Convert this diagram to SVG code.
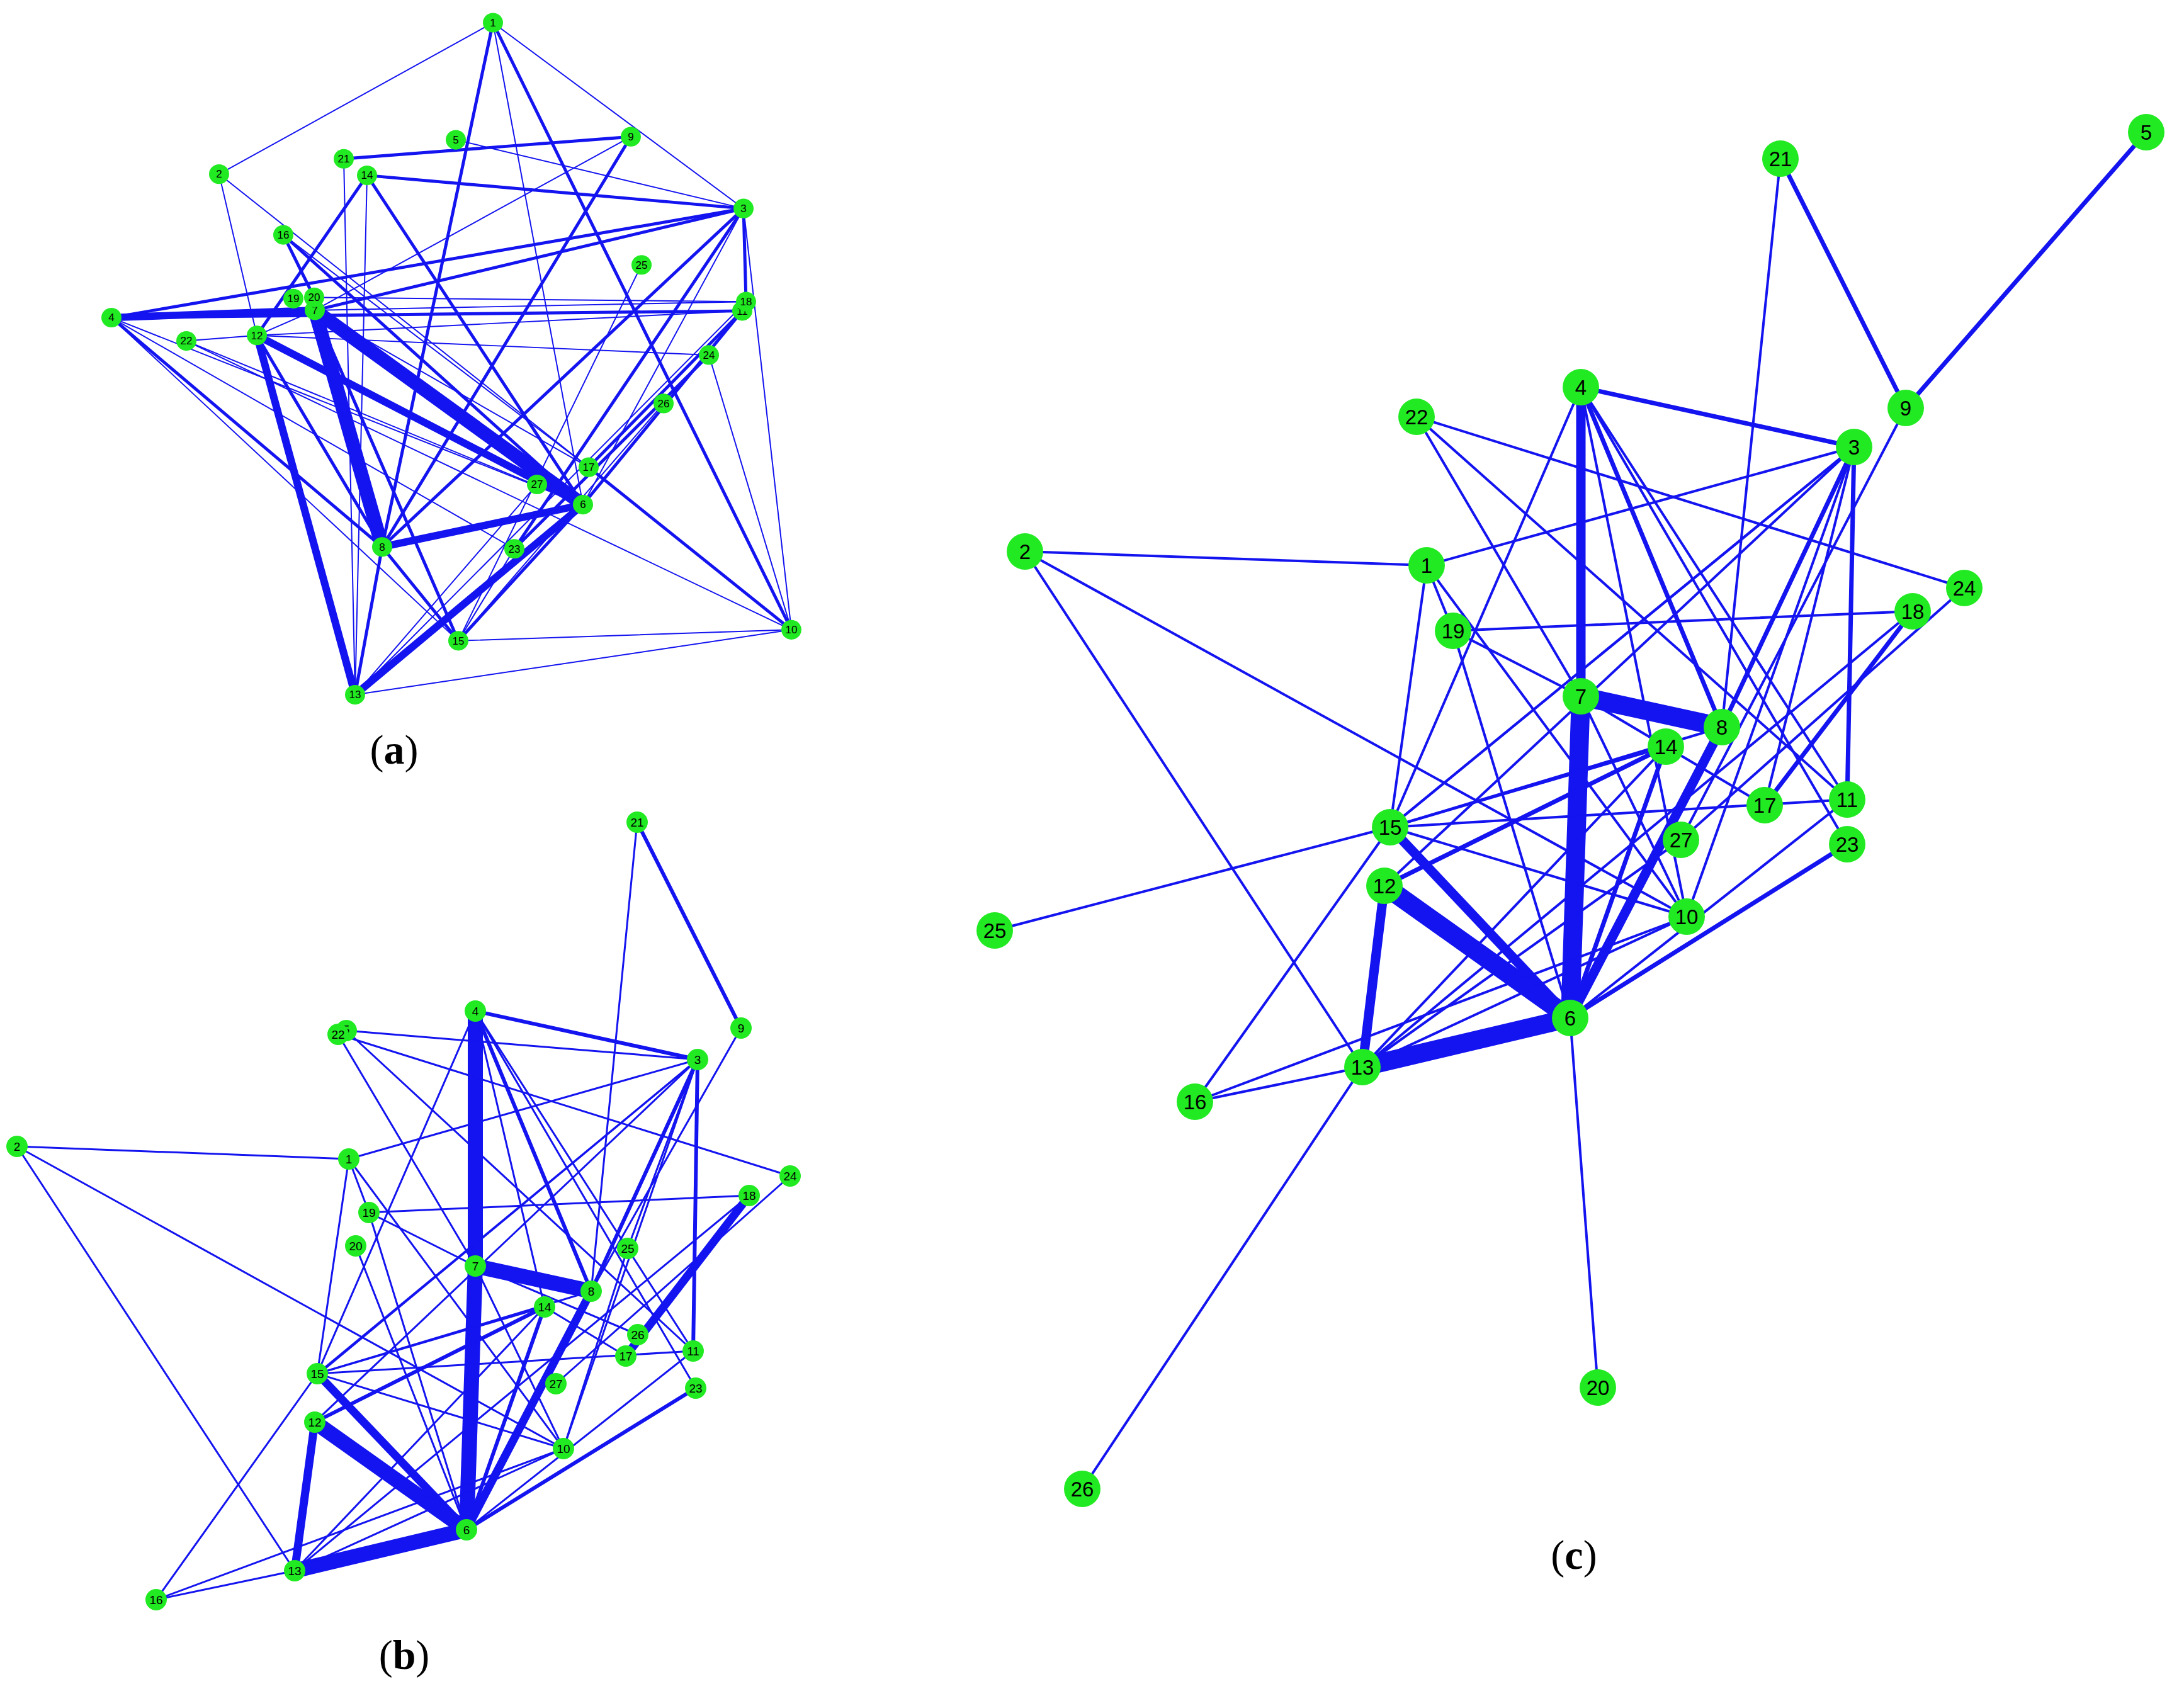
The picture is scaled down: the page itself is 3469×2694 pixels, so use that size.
<svg xmlns="http://www.w3.org/2000/svg" width="3469" height="2694" viewBox="0 0 3469 2694">
<style>
line{stroke:#1414f0;stroke-linecap:round}
.a1{stroke-width:2}.a2{stroke-width:5}.a3{stroke-width:12}.a4{stroke-width:22}
.b1{stroke-width:3}.b2{stroke-width:6}.b3{stroke-width:13}.b4{stroke-width:24}
.c1{stroke-width:4}.c2{stroke-width:7}.c3{stroke-width:15}.c4{stroke-width:30}
circle{fill:#22ea22}
text{font-family:"Liberation Sans",Arial,sans-serif;text-anchor:middle;fill:#000}
.sa text{font-size:17px}.sb text{font-size:19px}.sc text{font-size:33px}
.cap{font-family:"Liberation Serif","Times New Roman",serif;font-size:66px}
</style>
<g id="connectors">
<g transform="scale(1,0.974)">
<line class="a1" x1="783" y1="37" x2="348" y2="284"/><line class="a1" x1="783" y1="37" x2="1181" y2="340"/>
<line class="a2" x1="783" y1="37" x2="607" y2="892"/><line class="a1" x1="783" y1="37" x2="926" y2="823"/>
<line class="a2" x1="783" y1="37" x2="1257" y2="1027"/><line class="a2" x1="1002" y1="223" x2="546" y2="259"/>
<line class="a1" x1="724" y1="228" x2="1181" y2="340"/><line class="a2" x1="1002" y1="223" x2="607" y2="892"/>
<line class="a1" x1="1002" y1="223" x2="500" y2="506"/><line class="a2" x1="583" y1="286" x2="1181" y2="340"/>
<line class="a2" x1="583" y1="286" x2="926" y2="823"/><line class="a2" x1="583" y1="286" x2="408" y2="547"/>
<line class="a1" x1="583" y1="286" x2="564" y2="1133"/><line class="a1" x1="546" y1="259" x2="564" y2="1133"/>
<line class="a1" x1="348" y1="284" x2="408" y2="547"/><line class="a1" x1="348" y1="284" x2="935" y2="762"/>
<line class="a2" x1="1181" y1="340" x2="177" y2="518"/><line class="a2" x1="1181" y1="340" x2="500" y2="506"/>
<line class="a2" x1="1181" y1="340" x2="1185" y2="492"/><line class="a1" x1="1181" y1="340" x2="1257" y2="1027"/>
<line class="a2" x1="1181" y1="340" x2="607" y2="892"/><line class="a2" x1="1181" y1="340" x2="817" y2="895"/>
<line class="a1" x1="1181" y1="340" x2="926" y2="823"/>
<line class="a3" x1="177" y1="518" x2="500" y2="506"/><line class="a2" x1="177" y1="518" x2="1179" y2="507"/>
<line class="a2" x1="177" y1="518" x2="607" y2="892"/><line class="a1" x1="177" y1="518" x2="728" y2="1045"/>
<line class="a1" x1="177" y1="518" x2="926" y2="823"/><line class="a1" x1="177" y1="518" x2="817" y2="895"/>
<line class="a4" x1="500" y1="506" x2="926" y2="823"/><line class="a4" x1="500" y1="506" x2="607" y2="892"/>
<line class="a2" x1="500" y1="506" x2="728" y2="1045"/><line class="a1" x1="500" y1="506" x2="1185" y2="492"/>
<line class="a1" x1="500" y1="506" x2="935" y2="762"/><line class="a1" x1="500" y1="506" x2="408" y2="547"/>
<line class="a3" x1="408" y1="547" x2="926" y2="823"/><line class="a3" x1="408" y1="547" x2="564" y2="1133"/>
<line class="a2" x1="408" y1="547" x2="607" y2="892"/><line class="a1" x1="408" y1="547" x2="1126" y2="579"/>
<line class="a1" x1="408" y1="547" x2="1179" y2="507"/><line class="a1" x1="296" y1="556" x2="1257" y2="1027"/>
<line class="a1" x1="296" y1="556" x2="408" y2="547"/><line class="a1" x1="296" y1="556" x2="926" y2="823"/>
<line class="a1" x1="450" y1="383" x2="935" y2="762"/><line class="a2" x1="450" y1="383" x2="926" y2="823"/>
<line class="a2" x1="450" y1="383" x2="499" y2="485"/>
<line class="a3" x1="607" y1="892" x2="926" y2="823"/><line class="a2" x1="607" y1="892" x2="728" y2="1045"/>
<line class="a2" x1="607" y1="892" x2="564" y2="1133"/><line class="a3" x1="926" y1="823" x2="564" y2="1133"/>
<line class="a2" x1="926" y1="823" x2="728" y2="1045"/><line class="a2" x1="926" y1="823" x2="1179" y2="507"/>
<line class="a2" x1="1179" y1="507" x2="935" y2="762"/><line class="a2" x1="1126" y1="579" x2="817" y2="895"/>
<line class="a1" x1="1126" y1="579" x2="1257" y2="1027"/><line class="a1" x1="1054" y1="658" x2="728" y2="1045"/>
<line class="a1" x1="1019" y1="432" x2="728" y2="1045"/><line class="a2" x1="935" y1="762" x2="1257" y2="1027"/>
<line class="a1" x1="564" y1="1133" x2="1257" y2="1027"/><line class="a1" x1="728" y1="1045" x2="1257" y2="1027"/>
<line class="a1" x1="817" y1="895" x2="728" y2="1045"/><line class="a1" x1="853" y1="790" x2="564" y2="1133"/>
<line class="a1" x1="499" y1="485" x2="1185" y2="492"/><line class="a1" x1="1185" y1="492" x2="564" y2="1133"/>
</g>
<line class="b2" x1="1012" y1="1306" x2="1177" y2="1633"/><line class="b1" x1="1012" y1="1306" x2="939" y2="2051"/>
<line class="b2" x1="755" y1="1606" x2="1108" y2="1683"/><line class="b4" x1="755" y1="1606" x2="755" y2="2011"/>
<line class="b2" x1="755" y1="1606" x2="939" y2="2051"/><line class="b1" x1="755" y1="1606" x2="865" y2="2076"/>
<line class="b1" x1="755" y1="1606" x2="1101" y2="2146"/><line class="b1" x1="755" y1="1606" x2="1105" y2="2205"/>
<line class="b1" x1="755" y1="1606" x2="504" y2="2182"/><line class="b1" x1="550" y1="1637" x2="1108" y2="1683"/>
<line class="b1" x1="537" y1="1643" x2="1255" y2="1868"/><line class="b1" x1="537" y1="1643" x2="755" y2="2011"/>
<line class="b1" x1="550" y1="1637" x2="1101" y2="2146"/><line class="b1" x1="27" y1="1821" x2="554" y2="1841"/>
<line class="b1" x1="27" y1="1821" x2="468" y2="2495"/><line class="b1" x1="27" y1="1821" x2="895" y2="2301"/>
<line class="b1" x1="554" y1="1841" x2="1108" y2="1683"/><line class="b1" x1="554" y1="1841" x2="504" y2="2182"/>
<line class="b1" x1="554" y1="1841" x2="586" y2="1926"/><line class="b1" x1="554" y1="1841" x2="895" y2="2301"/>
<line class="b1" x1="586" y1="1926" x2="1190" y2="1899"/><line class="b1" x1="586" y1="1926" x2="755" y2="2011"/>
<line class="b1" x1="586" y1="1926" x2="741" y2="2430"/><line class="b1" x1="565" y1="1979" x2="741" y2="2430"/>
<line class="b1" x1="1177" y1="1633" x2="939" y2="2051"/><line class="b1" x1="1108" y1="1683" x2="504" y2="2182"/>
<line class="b1" x1="1108" y1="1683" x2="515" y2="2175"/><line class="b1" x1="1108" y1="1683" x2="500" y2="2259"/>
<line class="b2" x1="1108" y1="1683" x2="939" y2="2051"/><line class="b2" x1="1108" y1="1683" x2="1101" y2="2146"/>
<line class="b1" x1="1108" y1="1683" x2="895" y2="2301"/><line class="b1" x1="1108" y1="1683" x2="997" y2="1983"/>
<line class="b4" x1="755" y1="2011" x2="939" y2="2051"/><line class="b4" x1="755" y1="2011" x2="741" y2="2430"/>
<line class="b1" x1="755" y1="2011" x2="1013" y2="2120"/><line class="b1" x1="755" y1="2011" x2="895" y2="2301"/>
<line class="b3" x1="939" y1="2051" x2="741" y2="2430"/><line class="b1" x1="939" y1="2051" x2="504" y2="2182"/>
<line class="b1" x1="865" y1="2076" x2="504" y2="2182"/><line class="b2" x1="865" y1="2076" x2="500" y2="2259"/>
<line class="b2" x1="865" y1="2076" x2="741" y2="2430"/><line class="b1" x1="865" y1="2076" x2="468" y2="2495"/>
<line class="b1" x1="865" y1="2076" x2="994" y2="2154"/><line class="b3" x1="1190" y1="1899" x2="994" y2="2154"/>
<line class="b1" x1="1190" y1="1899" x2="468" y2="2495"/><line class="b1" x1="1101" y1="2146" x2="504" y2="2182"/>
<line class="b1" x1="1101" y1="2146" x2="741" y2="2430"/><line class="b3" x1="504" y1="2182" x2="741" y2="2430"/>
<line class="b1" x1="504" y1="2182" x2="248" y2="2541"/><line class="b1" x1="504" y1="2182" x2="895" y2="2301"/>
<line class="b4" x1="500" y1="2259" x2="741" y2="2430"/><line class="b3" x1="500" y1="2259" x2="468" y2="2495"/>
<line class="b4" x1="468" y1="2495" x2="741" y2="2430"/><line class="b1" x1="468" y1="2495" x2="248" y2="2541"/>
<line class="b1" x1="468" y1="2495" x2="895" y2="2301"/><line class="b1" x1="248" y1="2541" x2="895" y2="2301"/>
<line class="b2" x1="741" y1="2430" x2="1105" y2="2205"/><line class="b1" x1="1255" y1="1868" x2="883" y2="2198"/>
<line class="b1" x1="997" y1="1983" x2="895" y2="2301"/>
<line class="c2" x1="3409" y1="210" x2="3027" y2="648"/><line class="c2" x1="2828" y1="252" x2="3027" y2="648"/>
<line class="c1" x1="2828" y1="252" x2="2735" y2="1155"/><line class="c2" x1="2511" y1="615" x2="2945" y2="710"/>
<line class="c3" x1="2511" y1="615" x2="2511" y2="1106"/><line class="c2" x1="2511" y1="615" x2="2735" y2="1155"/>
<line class="c1" x1="2511" y1="615" x2="2679" y2="1456"/><line class="c1" x1="2511" y1="615" x2="2934" y2="1270"/>
<line class="c1" x1="2511" y1="615" x2="2934" y2="1341"/><line class="c1" x1="2511" y1="615" x2="2208" y2="1314"/>
<line class="c1" x1="2250" y1="662" x2="3120" y2="934"/><line class="c1" x1="2250" y1="662" x2="2511" y2="1106"/>
<line class="c1" x1="2250" y1="662" x2="2934" y2="1270"/><line class="c1" x1="1628" y1="876" x2="2266" y2="898"/>
<line class="c1" x1="1628" y1="876" x2="2164" y2="1695"/><line class="c1" x1="1628" y1="876" x2="2679" y2="1456"/>
<line class="c1" x1="2266" y1="898" x2="2945" y2="710"/><line class="c1" x1="2266" y1="898" x2="2208" y2="1314"/>
<line class="c1" x1="2266" y1="898" x2="2308" y2="1002"/><line class="c1" x1="2266" y1="898" x2="2679" y2="1456"/>
<line class="c1" x1="2308" y1="1002" x2="3038" y2="971"/><line class="c1" x1="2308" y1="1002" x2="2511" y2="1106"/>
<line class="c1" x1="2308" y1="1002" x2="2494" y2="1617"/>
<line class="c1" x1="2945" y1="710" x2="2208" y2="1314"/><line class="c1" x1="2945" y1="710" x2="2225" y2="1300"/>
<line class="c1" x1="2945" y1="710" x2="2199" y2="1407"/><line class="c2" x1="2945" y1="710" x2="2735" y2="1155"/>
<line class="c2" x1="2945" y1="710" x2="2934" y2="1270"/><line class="c1" x1="2945" y1="710" x2="2679" y2="1456"/>
<line class="c1" x1="2945" y1="710" x2="2803" y2="1279"/><line class="c1" x1="3027" y1="648" x2="2670" y2="1334"/>
<line class="c4" x1="2511" y1="1106" x2="2735" y2="1155"/><line class="c4" x1="2511" y1="1106" x2="2494" y2="1617"/>
<line class="c1" x1="2511" y1="1106" x2="2646" y2="1186"/><line class="c1" x1="2511" y1="1106" x2="2679" y2="1456"/>
<line class="c3" x1="2735" y1="1155" x2="2494" y2="1617"/><line class="c1" x1="2735" y1="1155" x2="2208" y2="1314"/>
<line class="c1" x1="2646" y1="1186" x2="2208" y2="1314"/><line class="c2" x1="2646" y1="1186" x2="2199" y2="1407"/>
<line class="c2" x1="2646" y1="1186" x2="2494" y2="1617"/><line class="c1" x1="2646" y1="1186" x2="2164" y2="1695"/>
<line class="c1" x1="2646" y1="1186" x2="2803" y2="1279"/><line class="c2" x1="3038" y1="971" x2="2803" y2="1279"/>
<line class="c1" x1="3038" y1="971" x2="2164" y2="1695"/><line class="c1" x1="2934" y1="1270" x2="2208" y2="1314"/>
<line class="c1" x1="2934" y1="1270" x2="2494" y2="1617"/><line class="c1" x1="2208" y1="1314" x2="1580" y2="1478"/>
<line class="c3" x1="2208" y1="1314" x2="2494" y2="1617"/><line class="c1" x1="2208" y1="1314" x2="1898" y2="1750"/>
<line class="c1" x1="2208" y1="1314" x2="2679" y2="1456"/><line class="c4" x1="2199" y1="1407" x2="2494" y2="1617"/>
<line class="c3" x1="2199" y1="1407" x2="2164" y2="1695"/><line class="c4" x1="2164" y1="1695" x2="2494" y2="1617"/>
<line class="c1" x1="2164" y1="1695" x2="1898" y2="1750"/><line class="c1" x1="2164" y1="1695" x2="1719" y2="2365"/>
<line class="c1" x1="2164" y1="1695" x2="2679" y2="1456"/><line class="c1" x1="1898" y1="1750" x2="2679" y2="1456"/>
<line class="c1" x1="2494" y1="1617" x2="2538" y2="2204"/><line class="c2" x1="2494" y1="1617" x2="2934" y2="1341"/>
<line class="c1" x1="3120" y1="934" x2="2670" y2="1334"/><line class="c1" x1="2670" y1="1334" x2="2164" y2="1695"/>
</g>
<g class="sa" transform="scale(1,0.974)">
<g id="a1"><circle cx="783" cy="37" r="16"/><text x="783" y="43">1</text></g>
<g id="a2"><circle cx="348" cy="284" r="16"/><text x="348" y="290">2</text></g>
<g id="a3"><circle cx="1181" cy="340" r="16"/><text x="1181" y="346">3</text></g>
<g id="a4"><circle cx="177" cy="518" r="16"/><text x="177" y="524">4</text></g>
<g id="a5"><circle cx="724" cy="228" r="16"/><text x="724" y="234">5</text></g>
<g id="a6"><circle cx="926" cy="823" r="16"/><text x="926" y="829">6</text></g>
<g id="a7"><circle cx="500" cy="506" r="16"/><text x="500" y="512">7</text></g>
<g id="a8"><circle cx="607" cy="892" r="16"/><text x="607" y="898">8</text></g>
<g id="a9"><circle cx="1002" cy="223" r="16"/><text x="1002" y="229">9</text></g>
<g id="a10"><circle cx="1257" cy="1027" r="16"/><text x="1257" y="1033">10</text></g>
<g id="a11"><circle cx="1179" cy="507" r="16"/><text x="1179" y="513">11</text></g>
<g id="a12"><circle cx="408" cy="547" r="16"/><text x="408" y="553">12</text></g>
<g id="a13"><circle cx="564" cy="1133" r="16"/><text x="564" y="1139">13</text></g>
<g id="a14"><circle cx="583" cy="286" r="16"/><text x="583" y="292">14</text></g>
<g id="a15"><circle cx="728" cy="1045" r="16"/><text x="728" y="1051">15</text></g>
<g id="a16"><circle cx="450" cy="383" r="16"/><text x="450" y="389">16</text></g>
<g id="a17"><circle cx="935" cy="762" r="16"/><text x="935" y="768">17</text></g>
<g id="a18"><circle cx="1185" cy="492" r="16"/><text x="1185" y="498">18</text></g>
<g id="a19"><circle cx="466" cy="487" r="16"/><text x="466" y="493">19</text></g>
<g id="a20"><circle cx="499" cy="485" r="16"/><text x="499" y="491">20</text></g>
<g id="a21"><circle cx="546" cy="259" r="16"/><text x="546" y="265">21</text></g>
<g id="a22"><circle cx="296" cy="556" r="16"/><text x="296" y="562">22</text></g>
<g id="a23"><circle cx="817" cy="895" r="16"/><text x="817" y="901">23</text></g>
<g id="a24"><circle cx="1126" cy="579" r="16"/><text x="1126" y="585">24</text></g>
<g id="a25"><circle cx="1019" cy="432" r="16"/><text x="1019" y="438">25</text></g>
<g id="a26"><circle cx="1054" cy="658" r="16"/><text x="1054" y="664">26</text></g>
<g id="a27"><circle cx="853" cy="790" r="16"/><text x="853" y="796">27</text></g>
</g>
<g class="sb">
<g id="b21"><circle cx="1012" cy="1306" r="17"/><text x="1012" y="1313">21</text></g>
<g id="b9"><circle cx="1177" cy="1633" r="17"/><text x="1177" y="1640">9</text></g>
<g id="b4"><circle cx="755" cy="1606" r="17"/><text x="755" y="1613">4</text></g>
<g id="b5"><circle cx="550" cy="1637" r="17"/><text x="550" y="1642">5</text></g>
<g id="b22"><circle cx="537" cy="1643" r="17"/><text x="537" y="1650">22</text></g>
<g id="b3"><circle cx="1108" cy="1683" r="17"/><text x="1108" y="1690">3</text></g>
<g id="b2"><circle cx="27" cy="1821" r="17"/><text x="27" y="1828">2</text></g>
<g id="b1"><circle cx="554" cy="1841" r="17"/><text x="554" y="1848">1</text></g>
<g id="b24"><circle cx="1255" cy="1868" r="17"/><text x="1255" y="1875">24</text></g>
<g id="b18"><circle cx="1190" cy="1899" r="17"/><text x="1190" y="1906">18</text></g>
<g id="b19"><circle cx="586" cy="1926" r="17"/><text x="586" y="1933">19</text></g>
<g id="b20"><circle cx="565" cy="1979" r="17"/><text x="565" y="1986">20</text></g>
<g id="b25"><circle cx="997" cy="1983" r="17"/><text x="997" y="1990">25</text></g>
<g id="b7"><circle cx="755" cy="2011" r="17"/><text x="755" y="2018">7</text></g>
<g id="b8"><circle cx="939" cy="2051" r="17"/><text x="939" y="2058">8</text></g>
<g id="b14"><circle cx="865" cy="2076" r="17"/><text x="865" y="2083">14</text></g>
<g id="b26"><circle cx="1013" cy="2120" r="17"/><text x="1013" y="2127">26</text></g>
<g id="b17"><circle cx="994" cy="2154" r="17"/><text x="994" y="2161">17</text></g>
<g id="b11"><circle cx="1101" cy="2146" r="17"/><text x="1101" y="2153">11</text></g>
<g id="b15"><circle cx="504" cy="2182" r="17"/><text x="504" y="2189">15</text></g>
<g id="b27"><circle cx="883" cy="2198" r="17"/><text x="883" y="2205">27</text></g>
<g id="b23"><circle cx="1105" cy="2205" r="17"/><text x="1105" y="2212">23</text></g>
<g id="b12"><circle cx="500" cy="2259" r="17"/><text x="500" y="2266">12</text></g>
<g id="b10"><circle cx="895" cy="2301" r="17"/><text x="895" y="2308">10</text></g>
<g id="b6"><circle cx="741" cy="2430" r="17"/><text x="741" y="2437">6</text></g>
<g id="b13"><circle cx="468" cy="2495" r="17"/><text x="468" y="2502">13</text></g>
<g id="b16"><circle cx="248" cy="2541" r="17"/><text x="248" y="2548">16</text></g>
</g>
<g class="sc">
<g id="c5"><circle cx="3409" cy="210" r="29"/><text x="3409" y="222">5</text></g>
<g id="c21"><circle cx="2828" cy="252" r="29"/><text x="2828" y="264">21</text></g>
<g id="c9"><circle cx="3027" cy="648" r="29"/><text x="3027" y="660">9</text></g>
<g id="c4"><circle cx="2511" cy="615" r="29"/><text x="2511" y="627">4</text></g>
<g id="c22"><circle cx="2250" cy="662" r="29"/><text x="2250" y="674">22</text></g>
<g id="c3"><circle cx="2945" cy="710" r="29"/><text x="2945" y="722">3</text></g>
<g id="c2"><circle cx="1628" cy="876" r="29"/><text x="1628" y="888">2</text></g>
<g id="c1"><circle cx="2266" cy="898" r="29"/><text x="2266" y="910">1</text></g>
<g id="c24"><circle cx="3120" cy="934" r="29"/><text x="3120" y="946">24</text></g>
<g id="c18"><circle cx="3038" cy="971" r="29"/><text x="3038" y="983">18</text></g>
<g id="c19"><circle cx="2308" cy="1002" r="29"/><text x="2308" y="1014">19</text></g>
<g id="c7"><circle cx="2511" cy="1106" r="29"/><text x="2511" y="1118">7</text></g>
<g id="c8"><circle cx="2735" cy="1155" r="29"/><text x="2735" y="1167">8</text></g>
<g id="c14"><circle cx="2646" cy="1186" r="29"/><text x="2646" y="1198">14</text></g>
<g id="c17"><circle cx="2803" cy="1279" r="29"/><text x="2803" y="1291">17</text></g>
<g id="c11"><circle cx="2934" cy="1270" r="29"/><text x="2934" y="1282">11</text></g>
<g id="c27"><circle cx="2670" cy="1334" r="29"/><text x="2670" y="1346">27</text></g>
<g id="c23"><circle cx="2934" cy="1341" r="29"/><text x="2934" y="1353">23</text></g>
<g id="c15"><circle cx="2208" cy="1314" r="29"/><text x="2208" y="1326">15</text></g>
<g id="c12"><circle cx="2199" cy="1407" r="29"/><text x="2199" y="1419">12</text></g>
<g id="c25"><circle cx="1580" cy="1478" r="29"/><text x="1580" y="1490">25</text></g>
<g id="c10"><circle cx="2679" cy="1456" r="29"/><text x="2679" y="1468">10</text></g>
<g id="c6"><circle cx="2494" cy="1617" r="29"/><text x="2494" y="1629">6</text></g>
<g id="c13"><circle cx="2164" cy="1695" r="29"/><text x="2164" y="1707">13</text></g>
<g id="c16"><circle cx="1898" cy="1750" r="29"/><text x="1898" y="1762">16</text></g>
<g id="c20"><circle cx="2538" cy="2204" r="29"/><text x="2538" y="2216">20</text></g>
<g id="c26"><circle cx="1719" cy="2365" r="29"/><text x="1719" y="2377">26</text></g>
</g>
<text class="cap" x="626" y="1213">(<tspan font-weight="bold">a</tspan>)</text>
<text class="cap" x="642" y="2651">(<tspan font-weight="bold">b</tspan>)</text>
<text class="cap" x="2500" y="2492">(<tspan font-weight="bold">c</tspan>)</text>
</svg>
